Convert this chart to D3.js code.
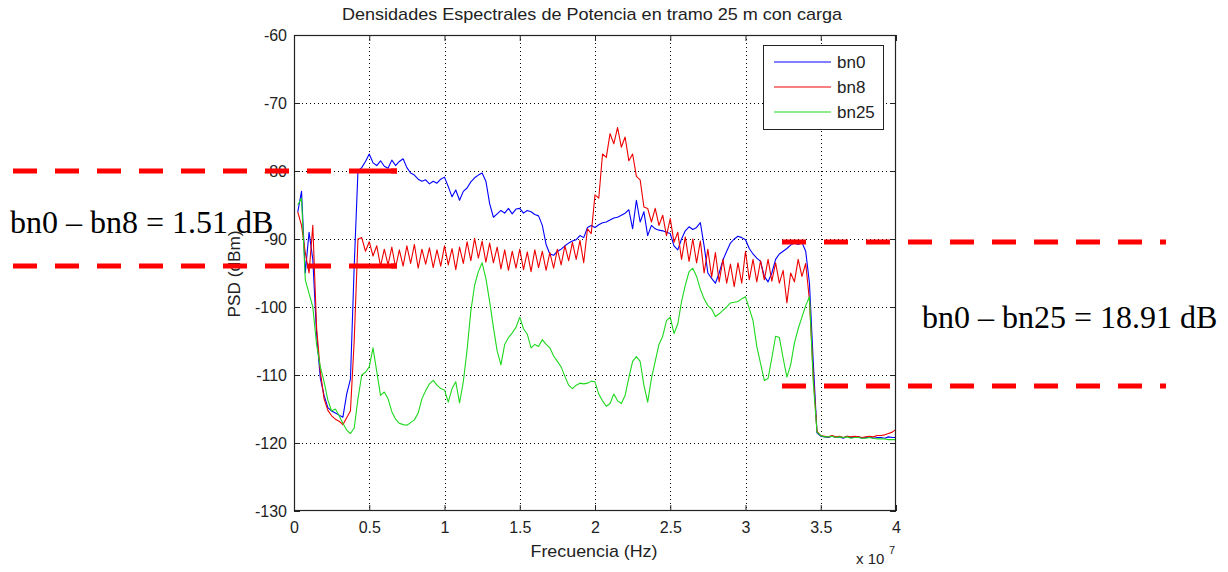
<!DOCTYPE html>
<html><head><meta charset="utf-8">
<script src="https://cdn.jsdelivr.net/npm/d3@7"></script>
<style>body{margin:0;background:#fff}svg{display:block}</style>
</head><body>
<svg id="c" width="1228" height="572"></svg>
<script>
// Frequency in units of 1e7 Hz
const freq = [
0.025,0.05,0.075,0.1,0.125,0.15,0.175,0.2,0.225,0.25,
0.275,0.3,0.325,0.35,0.375,0.4,0.425,0.45,0.475,0.5,
0.525,0.55,0.575,0.6,0.625,0.65,0.675,0.7,0.725,0.75,
0.775,0.8,0.825,0.85,0.875,0.9,0.925,0.95,0.975,1.0,
1.025,1.05,1.075,1.1,1.125,1.15,1.175,1.2,1.225,1.25,
1.275,1.3,1.325,1.35,1.375,1.4,1.425,1.45,1.475,1.5,
1.525,1.55,1.575,1.6,1.625,1.65,1.675,1.7,1.725,1.75,
1.775,1.8,1.825,1.85,1.875,1.9,1.925,1.95,1.975,2.0,
2.025,2.05,2.075,2.1,2.125,2.15,2.175,2.2,2.225,2.25,
2.275,2.3,2.325,2.35,2.375,2.4,2.425,2.45,2.475,2.5,
2.525,2.55,2.575,2.6,2.625,2.65,2.675,2.7,2.725,2.75,
2.775,2.8,2.825,2.85,2.875,2.9,2.925,2.95,2.975,3.0,
3.025,3.05,3.075,3.1,3.125,3.15,3.175,3.2,3.225,3.25,
3.275,3.3,3.325,3.35,3.375,3.4,3.425,3.45,3.475,3.5,
3.525,3.55,3.575,3.6,3.625,3.65,3.675,3.7,3.725,3.75,
3.775,3.8,3.825,3.85,3.875,3.9,3.925,3.95,3.975,4.0];

const bn0 = [
-86,-83,-95,-89,-93,-104,-110.5,-113,-114.8,-115.3,
-115.6,-115.9,-116.2,-112.8,-110.6,-94,-80,-79.5,-78.6,-77.5,
-78.8,-79.2,-78.5,-79.3,-79.6,-78.4,-79.2,-78.6,-78.2,-79.5,
-80.3,-80.6,-81.2,-81.5,-81.3,-81.9,-81.5,-81.8,-81.2,-80.9,
-82.3,-83.8,-82.8,-84.3,-83,-82.5,-81.6,-81,-80.6,-80.3,
-81.5,-84.8,-86.8,-86.3,-85.8,-86.2,-85.5,-86.3,-85.6,-85.5,
-86.2,-85.8,-86,-86.4,-86.6,-88,-90.8,-92.2,-92.4,-91.8,
-91.5,-91,-90.6,-90.3,-90.1,-89.5,-89.8,-88.3,-88,-88.3,
-87.9,-87.6,-87.5,-87.2,-86.9,-86.8,-86.5,-86.2,-85.7,-88.5,
-84.3,-87.5,-86,-89.5,-88,-88.5,-88.7,-88.8,-89,-89.2,
-91,-91.6,-90,-88.8,-88.2,-88.6,-88.3,-87.6,-91,-95,
-95.8,-96.5,-95,-93.1,-91.8,-90.6,-90,-89.6,-89.8,-90.1,
-91.4,-92.2,-92.8,-93.3,-95.5,-96.3,-95,-93,-92.2,-91.8,
-91.4,-90.9,-90.6,-90.8,-90.5,-91.8,-96.5,-108,-118.5,-119,
-119.1,-119.2,-119.0,-119.2,-119.1,-119.3,-119.0,-119.2,-119.2,-119.1,
-119.3,-119.2,-119.1,-119.3,-119.2,-119.2,-119.3,-119.1,-119.2,-119.2];

const bn8 = [
-86,-88,-92,-95,-88,-103,-109.5,-113.5,-115.2,-116,
-116.5,-116.8,-117.3,-116.3,-115.3,-105,-90,-89.8,-91.8,-90.4,
-92.5,-91,-94,-91.5,-93.8,-91.2,-94.2,-91.6,-94,-91,
-93.6,-90.8,-94.3,-91.5,-93.7,-91.3,-94.2,-91.6,-94,-91,
-93.8,-91.4,-94.5,-91.2,-93.6,-90.4,-93.2,-89.9,-92.8,-90.3,
-93.4,-90.6,-93.5,-91.2,-94.4,-91.6,-94.6,-91.8,-94.3,-91.5,
-94.5,-91.9,-94.8,-91.6,-94.2,-91.8,-94.6,-92,-94.3,-91.5,
-93.8,-91,-93.2,-90.5,-93,-90.2,-93.5,-88.5,-89.2,-83.5,
-84,-77.5,-78,-74.5,-76,-73.6,-76.5,-75,-78.5,-77.5,
-80.8,-81.3,-85.3,-85.5,-87.5,-85.5,-88,-86.5,-89.5,-87,
-90.5,-89,-93,-89.7,-93.3,-90,-93.5,-90.3,-95,-91.5,
-95.6,-92,-96.3,-93,-96.5,-93.7,-97,-93.5,-96.5,-91.8,
-96,-93,-96.3,-93.2,-96,-93,-96.2,-93.5,-96.5,-94.6,
-99.4,-95,-96.3,-93,-95.5,-93.6,-99,-110,-118.3,-118.9,
-119.0,-119.1,-118.9,-119.1,-119.0,-119.2,-119.0,-119.1,-119.0,-119.1,
-119.2,-119.1,-119.0,-119.1,-118.9,-118.9,-118.8,-118.6,-118.4,-118.0];

const bn25 = [
-85,-84,-96,-98,-100,-105.5,-108.8,-111,-113.7,-115.3,
-115,-116,-117.1,-118.1,-118.6,-117.8,-113.5,-110,-109.6,-108.8,
-106,-109.5,-113,-112.5,-113.5,-115.4,-116.5,-117.1,-117.3,-117.4,
-117,-116.6,-115.6,-113.5,-112.3,-111.3,-110.8,-111.5,-112,-112.2,
-114,-112,-111,-114.1,-111,-106.3,-100.6,-96.8,-94.8,-93.5,
-95.8,-99.2,-103,-106.5,-108.5,-105.5,-104.5,-103.8,-103,-101.5,
-103.2,-104,-106,-105.5,-105.8,-104.8,-105.5,-106,-107.2,-108,
-108.8,-110.2,-111.5,-112,-111.5,-111.2,-111.3,-111.2,-110.9,-111,
-112.8,-113.8,-114.6,-114.2,-112.8,-113.8,-114.2,-113,-110.4,-108,
-107.3,-108,-111.5,-114,-110.5,-108,-105.5,-104.3,-102,-101.5,
-103.9,-102.5,-99.2,-96.8,-94.8,-94.3,-95.5,-97.4,-98.8,-99.8,
-100.3,-101.4,-101,-100.5,-100,-99.4,-99.3,-99.2,-98.8,-98.5,
-100.2,-102,-105.8,-108.3,-110.8,-110.5,-107.5,-104.3,-104.5,-107.5,
-110.3,-108.5,-105.3,-103.2,-101.5,-99.8,-98.5,-111,-118.4,-118.9,
-119.1,-119.1,-119.0,-119.2,-119.1,-119.2,-119.1,-119.3,-119.2,-119.2,
-119.3,-119.3,-119.2,-119.3,-119.4,-119.4,-119.4,-119.5,-119.5,-119.5];

const xTicks = [0,0.5,1,1.5,2,2.5,3,3.5,4];
const xTickLabels = ["0","0.5","1","1.5","2","2.5","3","3.5","4"];
const yTicks = [-60,-70,-80,-90,-100,-110,-120,-130];
const yTickLabels = ["-60","-70","-80","-90","-100","-110","-120","-130"];
const seriesNames = ["bn0","bn8","bn25"];
const seriesColors = ["#0000ff","#ee0000","#1ed81e"];
const titleText = "Densidades Espectrales de Potencia en tramo 25 m con carga";
const xLabelText = "Frecuencia (Hz)";
const yLabelText = "PSD (dBm)";
const noteLeft = "bn0 – bn8 = 1.51 dB";
const noteRight = "bn0 – bn25 = 18.91 dB";
const noteLeftLevels = [-80, -94];      // dB levels of left dashed lines
const noteRightLevels = [-90.4, -111.6]; // dB levels of right dashed lines

const svg = d3.select("#c");
const L = 294, R = 896, T = 35, B = 511;
const x = d3.scaleLinear().domain([0,4]).range([L,R]);
const y = d3.scaleLinear().domain([-130,-60]).range([B,T]);
const font = "'Liberation Sans', Arial, sans-serif";

// grid
const grid = svg.append("g").attr("stroke","#000").attr("stroke-width",1).attr("stroke-dasharray","1,3").attr("shape-rendering","crispEdges");
xTicks.slice(1,-1).forEach(t => grid.append("line").attr("x1",Math.round(x(t))+0.5).attr("x2",Math.round(x(t))+0.5).attr("y1",T).attr("y2",B));
yTicks.slice(1,-1).forEach(t => grid.append("line").attr("y1",Math.round(y(t))+0.5).attr("y2",Math.round(y(t))+0.5).attr("x1",L).attr("x2",R));

// series
const line = d3.line().x(d=>x(d[0])).y(d=>y(d[1]));
[bn0,bn8,bn25].forEach((s,i)=>{
  svg.append("path").datum(freq.map((f,j)=>[f,s[j]]))
    .attr("d",line).attr("fill","none").attr("stroke",seriesColors[i])
    .attr("stroke-width",1.1).attr("stroke-linejoin","round");
});

// axes
function styleAxis(g){ g.select(".domain").remove(); g.selectAll("line").attr("stroke","#222");
  g.selectAll("text").attr("font-family",font).attr("font-size",16).attr("fill","#222"); }
svg.append("g").attr("transform",`translate(0,${B})`)
  .call(d3.axisBottom(x).tickValues(xTicks).tickFormat((d,i)=>xTickLabels[i]).tickSizeInner(-6).tickSizeOuter(0).tickPadding(11)).call(styleAxis);
svg.append("g").attr("transform",`translate(0,${T})`)
  .call(d3.axisTop(x).tickValues(xTicks).tickFormat("").tickSizeInner(-6).tickSizeOuter(0)).call(styleAxis);
svg.append("g").attr("transform",`translate(${L},0)`)
  .call(d3.axisLeft(y).tickValues(yTicks).tickFormat((d,i)=>yTickLabels[i]).tickSizeInner(-6).tickSizeOuter(0).tickPadding(7)).call(styleAxis);
svg.append("g").attr("transform",`translate(${R},0)`)
  .call(d3.axisRight(y).tickValues(yTicks).tickFormat("").tickSizeInner(-6).tickSizeOuter(0)).call(styleAxis);
svg.append("rect").attr("x",L+0.5).attr("y",T+0.5).attr("width",R-L-1).attr("height",B-T-1)
  .attr("fill","none").attr("stroke","#222").attr("stroke-width",1.2);

// exponent
svg.append("text").attr("x",856).attr("y",564).attr("font-family",font).attr("font-size",15).attr("fill","#222").text("x 10");
svg.append("text").attr("x",889).attr("y",554).attr("font-family",font).attr("font-size",11).attr("fill","#222").text("7");

// title & labels
svg.append("text").attr("x",592).attr("y",20).attr("text-anchor","middle").attr("font-family",font).attr("font-size",17)
  .attr("textLength",500).attr("lengthAdjust","spacingAndGlyphs").attr("fill","#222").text(titleText);
svg.append("text").attr("x",594).attr("y",557).attr("text-anchor","middle").attr("font-family",font).attr("font-size",17)
  .attr("textLength",127).attr("lengthAdjust","spacingAndGlyphs").attr("fill","#222").text(xLabelText);
svg.append("text").attr("transform","translate(240,274) rotate(-90)").attr("text-anchor","middle").attr("font-family",font).attr("font-size",17)
  .attr("textLength",87).attr("lengthAdjust","spacingAndGlyphs").attr("fill","#222").text(yLabelText);

// legend
const lg = svg.append("g");
lg.append("rect").attr("x",763.5).attr("y",45.5).attr("width",120).attr("height",84).attr("fill","#fff").attr("stroke","#222");
seriesNames.forEach((n,i)=>{
  const yy = 62 + i*25;
  lg.append("line").attr("x1",774).attr("x2",831).attr("y1",yy).attr("y2",yy).attr("stroke",seriesColors[i]).attr("stroke-width",1.2);
  lg.append("text").attr("x",837).attr("y",yy).attr("dy","0.36em").attr("font-family",font).attr("font-size",17).attr("fill","#222").text(n);
});

// annotations (red dashed lines + notes)
const ann = svg.append("g").attr("stroke","#ff0000").attr("stroke-width",5).attr("stroke-dasharray","24,18");
noteLeftLevels.forEach(v=>{
  const yy = Math.round(y(v));
  ann.append("line").attr("x1",13).attr("x2",397).attr("y1",yy).attr("y2",yy);
  svg.append("line").attr("x1",373).attr("x2",397).attr("y1",yy).attr("y2",yy).attr("stroke","#ff0000").attr("stroke-width",5);
});
noteRightLevels.forEach(v=>{
  const yy = Math.round(y(v));
  ann.append("line").attr("x1",782).attr("x2",1166).attr("y1",yy).attr("y2",yy);
});
const serif = "'Liberation Serif','Times New Roman',serif";
svg.append("text").attr("x",10).attr("y",233).attr("font-family",serif).attr("font-size",32).attr("fill","#000").text(noteLeft);
svg.append("text").attr("x",922).attr("y",328).attr("font-family",serif).attr("font-size",32).attr("fill","#000").text(noteRight);
</script>
</body></html>
